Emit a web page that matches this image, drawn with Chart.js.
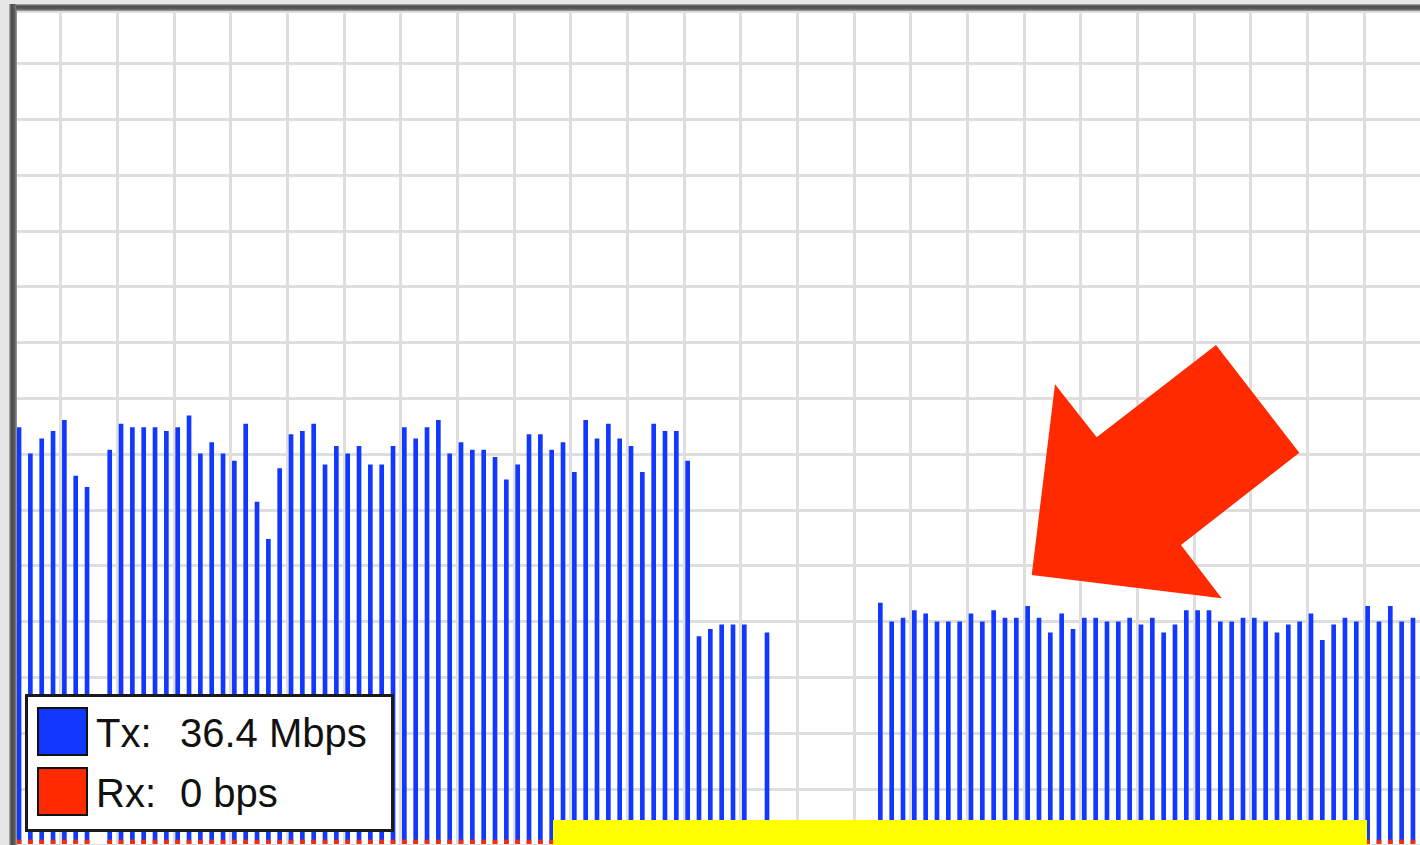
<!DOCTYPE html>
<html>
<head>
<meta charset="utf-8">
<title>Tx / Rx</title>
<script src="https://cdn.jsdelivr.net/npm/chart.js@4"></script>
<style>
    body { margin: 0; background: #fff; }
    #wrap { position: relative; width: 1420px; height: 845px; overflow: hidden; }
    #legend {
        position: absolute; left: 25px; top: 694px; width: 369px; height: 138px;
        box-sizing: border-box; border: 3px solid #1a1a1a; background: #fff;
        font-family: "Liberation Sans", Arial, sans-serif; font-size: 40px; line-height: 40px; color: #111;
    }
    #legend .sw { position: absolute; left: 9px; width: 51px; height: 49px; box-sizing: border-box; border: 2px solid #111; }
    #legend .lbl { position: absolute; left: 68px; white-space: pre; }
    #legend .val { position: absolute; left: 152px; white-space: pre; }
</style>
</head>
<body>
<div id="wrap">
    <canvas id="graph" width="1420" height="845"></canvas>
    <div id="legend"></div>
</div>
<script>
// sample slots (one bar each)
const slots = Array.from({ length: 124 }, (_, i) => i);

// Tx in Mbps, null = no sample
const tx = [
    67.3, 63.1, 65.5, 66.7, 68.5, 59.5, 57.7, null, 63.7, 67.9,
    67.3, 67.3, 67.3, 66.7, 67.3, 69.2, 63.1, 64.9, 63.1, 61.9,
    67.9, 55.3, 49.3, 60.7, 66.2, 66.7, 67.9, 61.3, 64.3, 63.1,
    64.3, 61.3, 61.3, 64.3, 67.3, 65.5, 67.3, 68.5, 63.1, 64.9,
    63.7, 63.7, 62.5, 58.9, 61.3, 66.2, 66.2, 63.7, 64.9, 60.1,
    68.5, 65.5, 67.9, 65.5, 64.3, 60.1, 67.9, 66.7, 66.7, 61.9,
    33.6, 34.8, 35.5, 35.5, 35.5, null, 34.2, null, null, null,
    null, null, null, null, null, null, 39.0, 36.0, 36.6, 37.8,
    37.3, 36.0, 36.0, 36.0, 37.3, 36.0, 37.8, 36.6, 36.6, 38.5,
    36.6, 34.2, 37.3, 34.8, 36.6, 36.6, 36.0, 36.0, 36.6, 35.5,
    36.6, 34.2, 35.5, 37.8, 37.8, 37.8, 36.0, 36.0, 36.6, 36.6,
    36.0, 34.2, 35.5, 36.0, 37.3, 33.0, 35.5, 36.6, 36.0, 38.5,
    36.0, 38.5, 36.0, 36.6
];

// Rx in Mbps
const rx = [
    0, 0, 0, 0, 0, 0, 0, null, 0, 0,
    0, 0, 0, 0, 0, 0, 0, 0, 0, 0,
    0, 0, 0, 0, 0, 0, 0, 0, 0, 0,
    0, 0, 0, 0, 0, 0, 0, 0, 0, 0,
    0, 0, 0, 0, 0, 0, 0, 0, 0, 0,
    0, 0, 0, 0, 0, 0, 0, 0, 0, 0,
    0, 0, 0, 0, 0, null, 0, null, null, null,
    null, null, null, null, null, null, 0, 0, 0, 0,
    0, 0, 0, 0, 0, 0, 0, 0, 0, 0,
    0, 0, 0, 0, 0, 0, 0, 0, 0, 0,
    0, 0, 0, 0, 0, 0, 0, 0, 0, 0,
    0, 0, 0, 0, 0, 0, 0, 0, 0, 0,
    0, 0, 0, 0
];

const seriesNames = ['Tx', 'Rx'];
const currentRates = ['36.4 Mbps', '0 bps'];
const seriesColors = ['#1238ff', '#ff2a00'];

// legend box
const legend = document.getElementById('legend');
seriesNames.forEach(function (name, i) {
    const top = 10 + i * 60;
    legend.insertAdjacentHTML('beforeend',
        '<div class="sw" style="top:' + top + 'px;background:' + seriesColors[i] + '"></div>' +
        '<div class="lbl" style="top:' + (top + 6) + 'px">' + name + ':</div>' +
        '<div class="val" style="top:' + (top + 6) + 'px">' + currentRates[i] + '</div>');
});

// frame, redaction box and arrow
const decorations = {
    id: 'decorations',
    beforeDraw: function (chart) {
        const ctx = chart.ctx;
        const a = chart.chartArea;
        ctx.save();
        ctx.fillStyle = '#e6e6e6';
        ctx.fillRect(0, 0, chart.width, chart.height);
        ctx.fillStyle = '#ffffff';
        ctx.fillRect(a.left, a.top, a.right - a.left, a.bottom - a.top);
        ctx.restore();
    },
    afterDraw: function (chart) {
        const ctx = chart.ctx;
        const a = chart.chartArea;
        ctx.save();
        // dark frame, left and top
        let g = ctx.createLinearGradient(a.left - 8, 0, a.left, 0);
        g.addColorStop(0, '#b5b5b5');
        g.addColorStop(0.3, '#4a4a4a');
        g.addColorStop(0.7, '#5c5c5c');
        g.addColorStop(1, '#a0a0a0');
        ctx.fillStyle = g;
        ctx.fillRect(a.left - 8, a.top - 7, 8, chart.height);
        g = ctx.createLinearGradient(0, a.top - 7, 0, a.top);
        g.addColorStop(0, '#b5b5b5');
        g.addColorStop(0.3, '#4a4a4a');
        g.addColorStop(0.7, '#5c5c5c');
        g.addColorStop(1, '#a0a0a0');
        ctx.fillStyle = g;
        ctx.fillRect(a.left - 1, a.top - 7, chart.width, 7);

        // yellow box
        ctx.fillStyle = '#ffff00';
        ctx.fillRect(553, 820, 814, 30);

        // red arrow
        ctx.fillStyle = '#ff2a00';
        ctx.beginPath();
        ctx.moveTo(1031.7, 575);
        ctx.lineTo(1055, 384.3);
        ctx.lineTo(1096.7, 437.3);
        ctx.lineTo(1216, 345);
        ctx.lineTo(1299.3, 452.7);
        ctx.lineTo(1181, 545);
        ctx.lineTo(1221.7, 598.3);
        ctx.closePath();
        ctx.fill();
        ctx.restore();
    }
};

const trafficChart = new Chart(document.getElementById('graph'), {
    type: 'bar',
    data: {
        labels: slots,
        datasets: [
            {
                label: seriesNames[0],
                data: tx,
                backgroundColor: seriesColors[0],
                barThickness: 4,
                grouped: false,
                order: 2
            },
            {
                label: seriesNames[1],
                data: rx,
                backgroundColor: seriesColors[1],
                barThickness: 4,
                minBarLength: 5,
                grouped: false,
                order: 1
            }]
    },
    options: {
        responsive: false,
        animation: false,
        devicePixelRatio: 1,
        events: [],
        layout: { padding: { left: 17, top: 11, right: 0, bottom: 0 } },
        plugins: {
            legend: { display: false },
            tooltip: { enabled: false }
        },
        scales: {
            x: {
                type: 'linear',
                offset: false,
                min: -0.18,
                max: 123.62,
                ticks: { display: false },
                border: { display: false },
                grid: { color: '#dedede', lineWidth: 3, drawTicks: false, offset: false },
                afterBuildTicks: function (scale) {
                    const t = [];
                    for (let v = 3.7; v <= scale.max; v += 5) t.push({ value: v });
                    scale.ticks = t;
                }
            },
            y: {
                min: 0,
                max: 134.5,
                ticks: { display: false, stepSize: 9 },
                border: { display: false },
                grid: { color: '#dedede', lineWidth: 3, drawTicks: false }
            }
        }
    },
    plugins: [decorations]
});
</script>
</body>
</html>
